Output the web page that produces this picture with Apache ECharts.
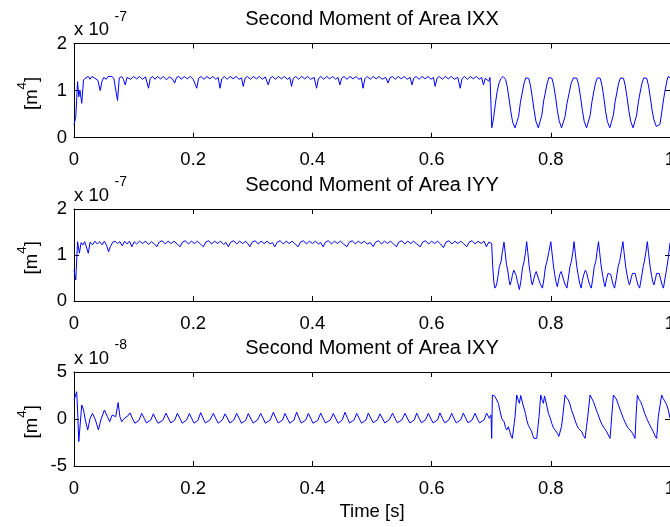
<!DOCTYPE html>
<html><head><meta charset="utf-8">
<script src="https://cdn.jsdelivr.net/npm/echarts@6/dist/echarts.min.js"></script>
<style>html,body{margin:0;padding:0;background:#fff}#c{width:670px;height:527px}</style>
</head><body><div id="c"></div>
<script>
const titles = ['Second Moment of Area IXX', 'Second Moment of Area IYY', 'Second Moment of Area IXY'];
const exponents = ['-7', '-7', '-8'];
const xTitle = 'Time [s]';
const xTickLabels = ['0', '0.2', '0.4', '0.6', '0.8', '1'];
const yTickLabelsXX = ['0', '1', '2'];
const yTickLabelsYY = ['0', '1', '2'];
const yTickLabelsXY = ['-5', '0', '5'];

// IXX in units of 1e-7 m^4 : [time s, value]
const ixx = [[0,0.27],[0.003,0.45],[0.006,1.19],[0.008,0.87],[0.010,1.01],[0.013,0.73],[0.016,1.23],[0.020,1.27],[0.024,1.30],[0.027,1.24],[0.030,1.30],[0.034,1.27],[0.037,1.30],[0.040,1.22],[0.044,1.00],[0.047,1.20],[0.050,1.28],[0.054,1.24],[0.057,1.30],[0.060,1.27],[0.064,1.30],[0.067,1.25],[0.070,1.22],[0.073,0.79],[0.076,1.27],[0.080,1.30],[0.083,1.24],[0.086,1.12],[0.089,1.28],
[0.095,1.24],[0.100,1.30],[0.105,1.25],[0.110,1.30],[0.115,1.24],[0.120,1.29],[0.125,1.05],[0.128,1.26],[0.132,1.30],[0.136,1.24],[0.140,1.30],[0.145,1.25],[0.150,1.30],[0.155,1.23],[0.160,1.29],[0.165,1.25],[0.169,1.16],[0.172,1.28],[0.176,1.30],[0.180,1.24],[0.185,1.30],[0.190,1.25],[0.195,1.30],[0.200,1.24],[0.203,1.28],[0.206,1.05],[0.209,1.26],[0.213,1.30],[0.218,1.24],[0.223,1.30],[0.228,1.25],[0.233,1.30],[0.238,1.24],[0.242,1.28],[0.245,1.05],[0.248,1.25],[0.252,1.30],[0.257,1.24],[0.262,1.30],[0.267,1.25],[0.272,1.30],[0.277,1.24],[0.281,1.27],[0.284,1.09],[0.287,1.26],[0.291,1.30],[0.296,1.24],[0.301,1.30],[0.306,1.25],[0.311,1.30],[0.316,1.24],[0.321,1.29],[0.326,1.12],[0.329,1.26],[0.333,1.30],[0.338,1.24],[0.343,1.30],[0.348,1.25],[0.353,1.30],[0.358,1.24],[0.362,1.28],[0.365,1.09],[0.368,1.26],[0.372,1.30],[0.377,1.24],[0.382,1.30],[0.387,1.25],[0.392,1.30],[0.397,1.24],[0.403,1.28],[0.407,1.05],[0.410,1.25],[0.414,1.30],[0.419,1.24],[0.424,1.30],[0.429,1.25],[0.434,1.30],[0.439,1.24],[0.443,1.28],[0.446,1.12],[0.449,1.26],[0.453,1.30],[0.458,1.24],[0.463,1.30],[0.468,1.25],[0.473,1.30],[0.478,1.24],[0.482,1.27],[0.485,1.05],[0.488,1.25],[0.492,1.30],[0.497,1.24],[0.502,1.30],[0.507,1.25],[0.512,1.30],[0.517,1.24],[0.523,1.28],[0.527,1.16],[0.530,1.27],[0.534,1.30],[0.539,1.24],[0.544,1.30],[0.549,1.25],[0.554,1.30],[0.559,1.24],[0.564,1.28],[0.567,1.12],[0.570,1.26],[0.574,1.30],[0.579,1.24],[0.584,1.30],[0.589,1.25],[0.594,1.30],[0.599,1.24],[0.603,1.28],[0.606,1.09],[0.609,1.26],[0.613,1.30],[0.618,1.24],[0.623,1.30],[0.628,1.25],[0.633,1.30],[0.638,1.24],[0.644,1.28],[0.648,1.05],[0.651,1.25],[0.655,1.30],[0.660,1.24],[0.665,1.30],[0.670,1.25],[0.675,1.30],[0.680,1.24],[0.684,1.28],[0.687,1.12],[0.690,1.26],[0.693,1.30],[0.696,1.20],[0.698,1.28],[0.700,1.24],
[0.701,0.21],[0.704,0.42],[0.707,0.72],[0.710,0.98],[0.713,1.15],[0.716,1.25],[0.720,1.30],[0.724,1.24],[0.727,1.08],[0.730,0.82],[0.733,0.55],[0.736,0.33],[0.740,0.21],[0.743,0.24],[0.746,0.45],[0.749,0.75],[0.752,0.95],[0.755,1.15],[0.758,1.27],[0.760,1.30],[0.763,1.26],[0.766,1.10],[0.769,0.85],[0.772,0.58],[0.775,0.35],[0.779,0.21],[0.782,0.25],[0.785,0.48],[0.788,0.78],[0.791,0.97],[0.794,1.16],[0.797,1.28],[0.799,1.30],[0.802,1.26],[0.805,1.10],[0.808,0.86],[0.811,0.58],[0.814,0.36],[0.818,0.21],[0.821,0.24],[0.824,0.45],[0.827,0.72],[0.831,0.96],[0.834,1.15],[0.838,1.27],[0.841,1.30],[0.844,1.26],[0.847,1.10],[0.850,0.85],[0.853,0.58],[0.856,0.35],[0.860,0.21],[0.863,0.25],[0.866,0.47],[0.869,0.76],[0.872,0.97],[0.875,1.16],[0.878,1.27],[0.880,1.30],[0.883,1.26],[0.886,1.10],[0.889,0.85],[0.892,0.56],[0.895,0.34],[0.899,0.21],[0.902,0.25],[0.905,0.48],[0.908,0.77],[0.911,0.97],[0.914,1.17],[0.917,1.27],[0.919,1.30],[0.922,1.26],[0.925,1.10],[0.928,0.85],[0.931,0.57],[0.934,0.35],[0.938,0.21],[0.941,0.25],[0.944,0.48],[0.947,0.76],[0.950,0.97],[0.953,1.16],[0.956,1.27],[0.958,1.30],[0.961,1.26],[0.964,1.10],[0.967,0.85],[0.970,0.58],[0.973,0.38],[0.977,0.24],[0.980,0.21],[0.983,0.28],[0.986,0.52],[0.989,0.80],[0.992,1.02],[0.995,1.22],[0.997,1.30],[1.000,1.27]];

// IYY in units of 1e-7 m^4
const iyy = [[0,0.67],[0.003,0.46],[0.006,1.29],[0.009,1.04],[0.012,1.27],[0.015,1.22],[0.018,1.29],[0.021,1.25],[0.024,1.04],[0.027,1.28],[0.031,1.22],[0.035,1.30],[0.039,1.24],[0.043,1.29],[0.047,1.22],[0.051,1.30],[0.055,1.20],[0.058,1.07],[0.061,1.18],[0.065,1.28],[0.069,1.30],[0.073,1.25],[0.077,1.29],[0.081,1.20],[0.085,1.30],[0.089,1.24],[0.093,1.30],[0.097,1.18],[0.101,1.29],
[0.105,1.24],[0.110,1.30],[0.115,1.25],[0.120,1.30],[0.125,1.23],[0.130,1.29],[0.135,1.24],[0.139,1.18],[0.143,1.28],[0.148,1.31],[0.153,1.24],[0.158,1.30],[0.163,1.25],[0.168,1.30],[0.173,1.24],[0.178,1.18],[0.182,1.28],[0.187,1.31],[0.192,1.24],[0.197,1.30],[0.202,1.25],[0.207,1.30],[0.212,1.24],[0.217,1.18],[0.221,1.28],[0.226,1.31],[0.231,1.24],[0.236,1.30],[0.241,1.25],[0.246,1.30],[0.251,1.23],[0.255,1.27],[0.259,1.18],[0.263,1.28],[0.268,1.31],[0.273,1.24],[0.278,1.30],[0.283,1.25],[0.288,1.30],[0.292,1.24],[0.295,1.18],[0.299,1.28],[0.304,1.31],[0.309,1.24],[0.314,1.30],[0.319,1.25],[0.324,1.30],[0.329,1.24],[0.333,1.27],[0.337,1.18],[0.341,1.28],[0.346,1.31],[0.351,1.24],[0.356,1.30],[0.361,1.25],[0.366,1.30],[0.371,1.24],[0.376,1.18],[0.380,1.28],[0.385,1.31],[0.390,1.24],[0.395,1.30],[0.400,1.25],[0.405,1.30],[0.410,1.24],[0.414,1.27],[0.418,1.18],[0.422,1.28],[0.427,1.31],[0.432,1.24],[0.437,1.30],[0.442,1.25],[0.447,1.30],[0.452,1.24],[0.458,1.18],[0.462,1.28],[0.467,1.31],[0.472,1.24],[0.477,1.30],[0.482,1.25],[0.487,1.30],[0.492,1.24],[0.497,1.27],[0.502,1.18],[0.506,1.28],[0.511,1.31],[0.516,1.24],[0.521,1.30],[0.526,1.25],[0.531,1.30],[0.536,1.24],[0.541,1.18],[0.545,1.28],[0.550,1.31],[0.555,1.24],[0.560,1.30],[0.565,1.25],[0.570,1.30],[0.575,1.24],[0.581,1.18],[0.585,1.28],[0.590,1.31],[0.595,1.24],[0.600,1.30],[0.605,1.25],[0.610,1.30],[0.615,1.24],[0.620,1.16],[0.624,1.28],[0.629,1.31],[0.634,1.24],[0.639,1.30],[0.644,1.25],[0.649,1.30],[0.654,1.24],[0.659,1.18],[0.663,1.28],[0.668,1.31],[0.673,1.24],[0.678,1.30],[0.683,1.25],[0.688,1.30],[0.692,1.18],[0.696,1.28],[0.699,1.27],
[0.7008,1.25],[0.7025,0.75],[0.7045,0.40],[0.7064,0.28],[0.709,0.35],[0.7115,0.55],[0.7137,0.75],[0.7165,0.85],[0.7185,1.05],[0.7215,1.28],[0.7235,1.05],[0.7255,0.80],[0.7277,0.67],[0.7300,0.45],[0.7316,0.35],[0.7340,0.45],[0.7355,0.56],[0.7380,0.67],[0.740,0.66],[0.742,0.55],[0.744,0.42],[0.7473,0.25],[0.7500,0.45],[0.7525,0.72],[0.7550,0.85],[0.7575,1.05],[0.7595,1.29],[0.7615,1.05],[0.7635,0.78],[0.7655,0.60],[0.7675,0.42],[0.769,0.35],[0.7715,0.48],[0.7735,0.58],[0.7755,0.64],[0.7775,0.60],[0.7795,0.48],[0.782,0.38],[0.786,0.28],[0.7885,0.48],[0.7910,0.74],[0.7935,0.86],[0.7965,1.05],[0.800,1.29],[0.8020,1.05],[0.8045,0.76],[0.8065,0.58],[0.8090,0.40],[0.811,0.31],[0.8130,0.45],[0.8150,0.58],[0.8175,0.64],[0.8195,0.60],[0.8215,0.46],[0.8240,0.36],[0.827,0.28],[0.8295,0.50],[0.8320,0.74],[0.8345,0.86],[0.8370,1.06],[0.839,1.29],[0.8410,1.05],[0.8435,0.76],[0.8460,0.56],[0.8485,0.38],[0.851,0.28],[0.8530,0.45],[0.8555,0.58],[0.8580,0.67],[0.8600,0.62],[0.8625,0.48],[0.8650,0.36],[0.868,0.28],[0.8705,0.50],[0.8730,0.75],[0.8755,0.86],[0.8775,1.06],[0.880,1.29],[0.8820,1.05],[0.8845,0.76],[0.8870,0.56],[0.8895,0.38],[0.891,0.31],[0.8935,0.48],[0.8960,0.60],[0.8985,0.64],[0.9005,0.58],[0.9030,0.44],[0.9050,0.34],[0.907,0.28],[0.9100,0.50],[0.9130,0.75],[0.9155,0.86],[0.9180,1.06],[0.921,1.29],[0.9230,1.05],[0.9255,0.76],[0.9280,0.56],[0.9305,0.40],[0.932,0.35],[0.9345,0.48],[0.9370,0.60],[0.9395,0.64],[0.9415,0.60],[0.9440,0.46],[0.9465,0.34],[0.949,0.28],[0.9520,0.50],[0.9550,0.75],[0.9570,0.86],[0.9595,1.06],[0.962,1.29],[0.9640,1.05],[0.9665,0.76],[0.9690,0.56],[0.9710,0.42],[0.973,0.35],[0.9755,0.48],[0.9775,0.60],[0.9800,0.64],[0.9820,0.60],[0.9845,0.46],[0.9870,0.34],[0.989,0.28],[0.9915,0.48],[0.994,0.67],[0.997,0.93],[1.000,1.26]];

// IXY in units of 1e-8 m^4
const ixy = [[0,2.0],[0.0045,2.9],[0.006,0.96],[0.008,-2.41],[0.0089,-2.3],[0.013,1.49],[0.016,0.96],[0.019,-0.1],[0.023,-1.17],[0.027,0.07],[0.031,0.6],[0.036,-0.1],[0.041,-1.17],[0.045,-0.1],[0.051,0.96],[0.056,0.25],[0.060,-0.28],[0.064,0.42],[0.070,0.25],[0.074,1.74],[0.077,0.25],[0.080,-0.28],[0.085,0.1],[0.090,0.3],
[0.094,0.65],[0.0985,0.0],[0.102,-0.45],[0.105,-0.64],[0.109,-0.15],
[0.1136,0.6],[0.118,0.05],[0.1215,-0.42],[0.1246,-0.62],[0.129,-0.1],
[0.1331,0.55],[0.1376,-0.05],[0.141,-0.45],[0.144,-0.64],[0.149,-0.15],
[0.1544,0.62],[0.159,0.0],[0.1625,-0.42],[0.1655,-0.6],[0.169,-0.12],
[0.1734,0.6],[0.178,0.05],[0.1815,-0.45],[0.1845,-0.62],[0.189,-0.1],
[0.1935,0.58],[0.198,0.0],[0.2015,-0.44],[0.2045,-0.62],[0.208,-0.15],
[0.2125,0.68],[0.217,0.02],[0.2205,-0.42],[0.2235,-0.6],[0.228,-0.12],
[0.2338,0.6],[0.2383,0.0],[0.2418,-0.45],[0.2448,-0.63],[0.249,-0.1],
[0.2534,0.55],[0.258,0.0],[0.2615,-0.43],[0.2645,-0.62],[0.268,-0.12],
[0.2729,0.6],[0.2775,0.02],[0.281,-0.45],[0.284,-0.6],[0.288,-0.15],
[0.2925,0.58],[0.297,0.0],[0.3005,-0.42],[0.3035,-0.62],[0.308,-0.1],
[0.3132,0.6],[0.3177,0.02],[0.321,-0.44],[0.324,-0.62],[0.329,-0.12],
[0.3345,0.72],[0.339,0.05],[0.3425,-0.42],[0.3455,-0.6],[0.350,-0.1],
[0.354,0.58],[0.3585,0.0],[0.362,-0.45],[0.365,-0.63],[0.369,-0.12],
[0.3736,0.72],[0.378,0.02],[0.3815,-0.43],[0.3845,-0.6],[0.389,-0.1],
[0.3932,0.6],[0.3977,0.0],[0.401,-0.45],[0.404,-0.62],[0.409,-0.15],
[0.4139,0.62],[0.4184,0.02],[0.422,-0.42],[0.425,-0.6],[0.430,-0.1],
[0.4351,0.58],[0.4396,0.0],[0.443,-0.45],[0.446,-0.62],[0.450,-0.12],
[0.4547,0.72],[0.459,0.05],[0.4625,-0.42],[0.4655,-0.6],[0.470,-0.1],
[0.4743,0.6],[0.479,0.0],[0.4825,-0.44],[0.4855,-0.55],[0.490,-0.1],
[0.4938,0.62],[0.4985,0.02],[0.502,-0.4],[0.505,-0.52],[0.509,-0.1],
[0.5135,0.55],[0.518,0.0],[0.5215,-0.42],[0.5245,-0.5],[0.529,-0.08],
[0.5345,0.62],[0.539,0.02],[0.5425,-0.4],[0.5455,-0.52],[0.550,-0.1],
[0.5554,0.6],[0.560,0.0],[0.5635,-0.42],[0.5665,-0.5],[0.571,-0.1],
[0.575,0.62],[0.5795,0.02],[0.583,-0.4],[0.586,-0.52],[0.590,-0.08],
[0.5945,0.6],[0.599,0.0],[0.6025,-0.42],[0.6055,-0.5],[0.610,-0.1],
[0.614,0.65],[0.6185,0.02],[0.622,-0.4],[0.625,-0.52],[0.629,-0.1],
[0.6337,0.6],[0.638,0.0],[0.6415,-0.42],[0.6445,-0.5],[0.649,-0.08],
[0.6532,0.62],[0.6577,0.02],[0.661,-0.4],[0.664,-0.52],[0.668,-0.1],
[0.6728,0.6],[0.677,0.0],[0.6805,-0.42],[0.6835,-0.5],[0.688,-0.1],
[0.6924,0.62],[0.6969,0.07],[0.6997,0.42],
[0.7008,-2.06],[0.7020,2.55],[0.7045,2.60],[0.7064,2.40],[0.7092,2.02],[0.7105,2.20],[0.712,1.67],[0.7150,0.80],[0.7176,0.07],[0.7200,-0.10],[0.7215,-0.28],[0.7240,-0.90],[0.726,-1.17],[0.7288,-0.82],[0.7310,-1.30],[0.7327,-1.70],[0.7355,-2.06],[0.7385,-0.50],[0.740,0.25],[0.7428,2.55],[0.7450,2.10],[0.7473,1.67],[0.7495,2.50],[0.7512,2.40],[0.7530,1.60],[0.7551,1.50],[0.7575,0.60],[0.7596,-0.10],[0.7625,-0.70],[0.7652,-1.00],[0.768,-1.35],[0.7700,-1.80],[0.7719,-2.06],[0.7740,-1.85],[0.7764,-2.06],[0.7785,-0.80],[0.7803,0.25],[0.7831,2.55],[0.7855,2.00],[0.7876,1.67],[0.7895,2.45],[0.7904,2.40],[0.7930,1.50],[0.796,0.60],[0.7990,0.10],[0.8016,-0.46],[0.8045,-0.95],[0.8072,-1.17],[0.8090,-1.05],[0.8111,-1.53],[0.8135,-1.85],[0.8155,-2.06],[0.8180,-0.80],[0.820,0.25],[0.8239,2.55],[0.8265,2.25],[0.8295,2.02],[0.8320,1.60],[0.8350,0.90],[0.8379,0.42],[0.8410,-0.20],[0.8440,-0.70],[0.8463,-1.00],[0.8490,-1.10],[0.8519,-1.35],[0.8545,-1.75],[0.8575,-2.06],[0.8600,-0.80],[0.862,0.25],[0.8659,2.55],[0.8690,2.15],[0.8715,1.85],[0.8745,1.30],[0.8780,0.70],[0.8826,-0.10],[0.8860,-0.60],[0.8900,-1.00],[0.8938,-1.35],[0.8965,-1.70],[0.8994,-2.06],[0.9010,-0.80],[0.9022,0.25],[0.905,2.55],[0.9080,2.30],[0.9106,2.02],[0.9140,1.40],[0.9180,0.70],[0.9217,0.07],[0.9250,-0.40],[0.9290,-0.90],[0.9329,-1.17],[0.9370,-1.50],[0.9413,-2.06],[0.943,0.25],[0.9452,2.55],[0.9480,2.10],[0.9508,1.85],[0.9540,1.30],[0.9575,0.60],[0.9609,0.07],[0.9650,-0.50],[0.9690,-1.00],[0.972,-1.35],[0.9750,-1.80],[0.9776,-2.06],[0.9804,0.25],[0.986,2.55],[0.9885,2.20],[0.9916,1.85],[0.9945,1.50],[0.9972,0.96],[1.0,0.07]];

const FONT = '"Liberation Sans", Arial, Helvetica, sans-serif';
const chart = echarts.init(document.getElementById('c'), null, {renderer: 'canvas'});

const gridTops = [43.5, 209, 372];
const gridHeights = [94.2, 92, 94];
const yRanges = [[0, 2, 1], [0, 2, 1], [-5, 5, 5]];
const yLabelSets = [yTickLabelsXX, yTickLabelsYY, yTickLabelsXY];
const seriesData = [ixx, iyy, ixy];

const grids = [], xAxes = [], yAxes = [], series = [], graphics = [];
const axisLine = {show: true, onZero: false, lineStyle: {color: '#000', width: 1}};
const tick = {show: true, inside: true, length: 5, lineStyle: {color: '#000'}};
for (let i = 0; i < 3; i++) {
  grids.push({left: 74, right: 0, top: gridTops[i], height: gridHeights[i], containLabel: false, outerBoundsMode: 'none'});
  xAxes.push({type: 'value', gridIndex: i, min: 0, max: 1, interval: 0.2, position: 'bottom',
    axisLine: axisLine, axisTick: tick, splitLine: {show: false},
    axisLabel: {show: true, margin: 13, fontSize: 18.5, fontFamily: FONT, color: '#000',
      showMinLabel: true, showMaxLabel: true, hideOverlap: false,
      formatter: (v) => xTickLabels[Math.round(v / 0.2)]}});
  xAxes.push({type: 'value', gridIndex: i, min: 0, max: 1, interval: 0.2, position: 'top',
    axisLine: axisLine, axisTick: tick, splitLine: {show: false}, axisLabel: {show: false}});
  const [mn, mx, iv] = yRanges[i];
  const labs = yLabelSets[i];
  yAxes.push({type: 'value', gridIndex: i, min: mn, max: mx, interval: iv, position: 'left',
    axisLine: axisLine, axisTick: tick, splitLine: {show: false},
    axisLabel: {show: true, margin: 7, fontSize: 18.5, fontFamily: FONT, color: '#000',
      formatter: (v) => labs[Math.round((v - mn) / iv)]}});
  yAxes.push({type: 'value', gridIndex: i, min: mn, max: mx, interval: iv, position: 'right',
    axisLine: axisLine, axisTick: tick, splitLine: {show: false}, axisLabel: {show: false}});
  series.push({type: 'line', xAxisIndex: 2 * i, yAxisIndex: 2 * i, data: seriesData[i],
    showSymbol: false, symbol: 'none', lineStyle: {color: '#0000ff', width: 1}, animation: false, z: 1});

  const top = gridTops[i], mid = top + gridHeights[i] / 2;
  graphics.push({type: 'text', x: 372, y: top - 24, style: {text: titles[i], fontSize: 20, fontFamily: FONT, fill: '#000', align: 'center', verticalAlign: 'middle'}});
  graphics.push({type: 'text', x: 74, y: top - 13.5, style: {text: 'x 10', fontSize: 18.5, fontFamily: FONT, fill: '#000', align: 'left', verticalAlign: 'middle'}});
  graphics.push({type: 'text', x: 114.5, y: top - 26.5, style: {text: exponents[i], fontSize: 14, fontFamily: FONT, fill: '#000', align: 'left', verticalAlign: 'middle'}});
  graphics.push({type: 'text', x: 28.5, y: mid + 2.8, rotation: Math.PI / 2,
    style: {text: '{a|[m}{s|4}{a|]}', fontSize: 18.5, fontFamily: FONT, fill: '#000', align: 'center', verticalAlign: 'middle',
      rich: {a: {fontSize: 18.5, fontFamily: FONT, fill: '#000', lineHeight: 26, verticalAlign: 'bottom'},
             s: {fontSize: 13.5, fontFamily: FONT, fill: '#000', verticalAlign: 'top'}}}});
}
graphics.push({type: 'text', x: 372, y: 512, style: {text: xTitle, fontSize: 18.5, fontFamily: FONT, fill: '#000', align: 'center', verticalAlign: 'middle'}});

chart.setOption({
  animation: false,
  backgroundColor: '#fff',
  grid: grids, xAxis: xAxes, yAxis: yAxes, series: series, graphic: graphics
});
</script></body></html>
